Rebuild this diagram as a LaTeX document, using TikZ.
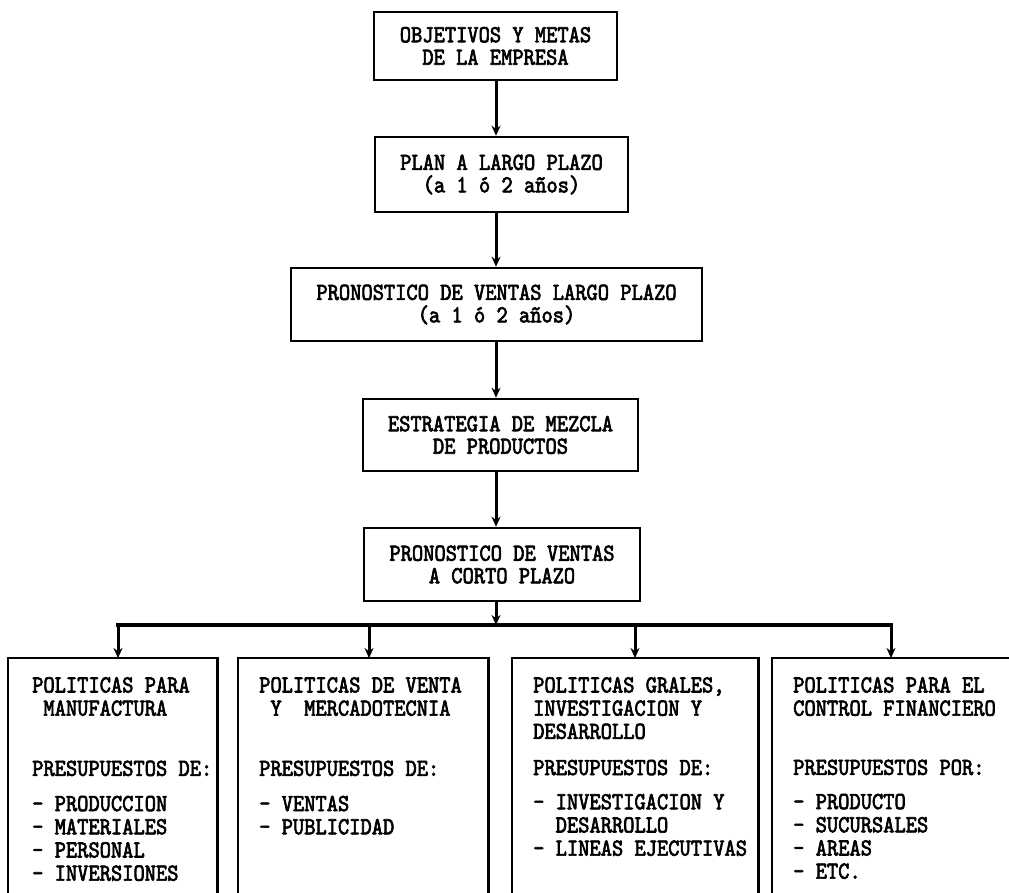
\documentclass[tikz,border=0pt]{standalone}
\usepackage{fontspec}
\newfontfamily\typew{lmmono10-regular.otf}[FakeStretch=0.875,FakeBold=2.6]
\usetikzlibrary{arrows.meta}
\begin{document}
\begin{tikzpicture}[x=1pt,y=-1pt,
  txt/.style={font=\fontsize{24.5}{22.5}\typew, inner sep=0pt},
  box/.style={txt, draw, line width=2.6pt, align=center},
  boxline/.style={line width=2.6pt},
  arr/.style={line width=3pt, -{Stealth[length=10pt,width=9pt]}},
  barline/.style={line width=3.4pt},
  col/.style={txt, font=\fontsize{24.5}{23.2}\typew, align=left, anchor=north west},
  frame/.style={inner sep=0pt, anchor=north west}]
\useasboundingbox (0,0) rectangle (1009,893);
% top column of boxes
\node[box, minimum width=243, minimum height=68] (b1) at (495.5,46) {OBJETIVOS Y METAS\\DE LA EMPRESA};
\node[box, minimum width=253, minimum height=75] (b2) at (501.5,174.5) {PLAN A LARGO PLAZO\\(a 1 ó 2 años)};
\node[box, minimum width=411, minimum height=73] (b3) at (496.5,304.5) {PRONOSTICO DE VENTAS LARGO PLAZO\\(a 1 ó 2 años)};
\node[box, minimum width=275, minimum height=72] (b4) at (500.5,435) {ESTRATEGIA DE MEZCLA\\DE PRODUCTOS};
\node[box, minimum width=276, minimum height=73] (b5) at (502,564.5) {PRONOSTICO DE VENTAS\\A CORTO PLAZO};
\coordinate (ax) at (496,0);
\draw[arr] (b1.south -| ax) -- (b2.north -| ax);
\draw[arr] (b2.south -| ax) -- (b3.north -| ax);
\draw[arr] (b3.south -| ax) -- (b4.north -| ax);
\draw[arr] (b4.south -| ax) -- (b5.north -| ax);
% distribution bar
\coordinate (bar) at (496,625);
\coordinate (barL) at (118,625);
\coordinate (barB) at (369,625);
\coordinate (barC) at (635,625);
\coordinate (barR) at (891,625);
\draw[arr] (b5.south -| ax) -- (bar);
\draw[barline, line cap=rect] (barL) -- (barR);
% bottom boxes (open at the bottom)
\node[frame, minimum width=209, minimum height=236] (bA) at (8,658) {};
\node[frame, minimum width=250, minimum height=236] (bB) at (238,658) {};
\node[frame, minimum width=246, minimum height=236] (bC) at (512,658) {};
\node[frame, minimum width=238, minimum height=236] (bD) at (772,658) {};
\draw[boxline] (bA.south west) -- (bA.north west) -- (bA.north east) -- (bA.south east);
\draw[boxline] (bB.south west) -- (bB.north west) -- (bB.north east) -- (bB.south east);
\draw[boxline] (bC.south west) -- (bC.north west) -- (bC.north east) -- (bC.south east);
\draw[boxline] (bD.south west) -- (bD.north west) -- (bD.north east);
\draw[arr] (barL) -- (bA.north -| barL);
\draw[arr] (barB) -- (bB.north -| barB);
\draw[arr] (barC) -- (bC.north -| barC);
\draw[arr] (barR) -- (bD.north -| barR);
% texts of bottom boxes
\node[col] (tA) at (32,677) {POLITICAS PARA\\~MANUFACTURA\\[37pt]PRESUPUESTOS DE:\\[12pt]- PRODUCCION\\- MATERIALES\\- PERSONAL\\- INVERSIONES};
\node[col] (tB) at (259,677) {POLITICAS DE VENTA\\~Y~~MERCADOTECNIA\\[37pt]PRESUPUESTOS DE:\\[12pt]- VENTAS\\- PUBLICIDAD};
\node[col] (tC) at (533,677) {POLITICAS GRALES,\\INVESTIGACION Y\\DESARROLLO\\[13pt]PRESUPUESTOS DE:\\[11pt]- INVESTIGACION Y\\~~DESARROLLO\\- LINEAS EJECUTIVAS};
\node[col] (tD) at (793,677) {POLITICAS PARA EL\\CONTROL FINANCIERO\\[36pt]PRESUPUESTOS POR:\\[11pt]- PRODUCTO\\- SUCURSALES\\- AREAS\\- ETC.};
\end{tikzpicture}
\end{document}
